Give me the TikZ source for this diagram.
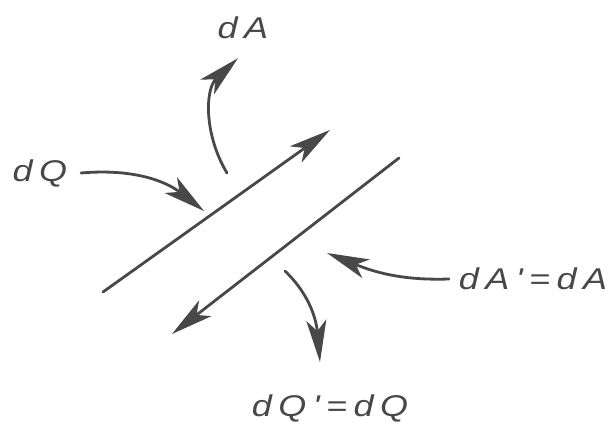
\documentclass[tikz,border=0pt]{standalone}
\usepackage{fontspec}
\newfontfamily\lblfont[LetterSpace=18]{Liberation Sans}
\usetikzlibrary{arrows.meta}
\definecolor{ink}{RGB}{72,72,72}

\begin{document}
\begin{tikzpicture}[x=1pt,y=1pt,
  flow/.style={draw=ink,line width=2.8pt,line cap=round,
    -{Stealth[length=42pt,width=20pt,inset=11pt]}},
  lbl/.style={text=ink,font=\lblfont\itshape\fontsize{30}{34}\selectfont,
    inner sep=3pt,transform shape,xscale=1.2}]
  \useasboundingbox (0,0) rectangle (614,425);

  % the two sheets
  \coordinate (upA) at (103,133);
  \coordinate (upB) at (330,295);
  \coordinate (loA) at (399,267);
  \coordinate (loB) at (172,91);
  \draw[flow] (upA) -- (upB);
  \draw[flow] (loA) -- (loB);

  % labels
  \node[lbl] (dA)  at (243,397) {dA};
  \node[lbl] (dQ)  at (40,252)  {dQ};
  \node[lbl] (dAp) at (533,146) {dA'=dA};
  \node[lbl] (dQp) at (330,17)  {dQ'=dQ};

  % in and out
  \coordinate (aOut) at (227,252);
  \coordinate (qIn)  at (204,214);
  \coordinate (apIn) at (327,172);
  \coordinate (qOut) at (285,154);
  \draw[flow] (aOut) to[out=121,in=-137] ([xshift=-5pt,yshift=-16pt]dA.south);
  \draw[flow] ([xshift=10pt]dQ.east) to[out=5,in=142] (qIn);
  \draw[flow] ([xshift=-6pt]dAp.west) to[out=182,in=-22] (apIn);
  \draw[flow] (qOut) to[out=-44,in=95] ([xshift=-10pt,yshift=29pt]dQp.north);
\end{tikzpicture}
\end{document}
